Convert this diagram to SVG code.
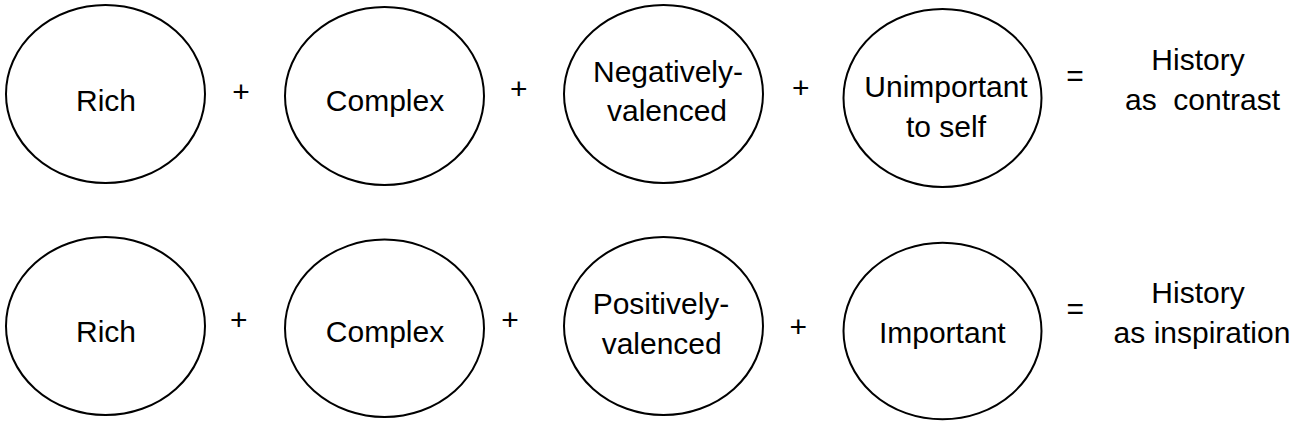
<svg xmlns="http://www.w3.org/2000/svg" width="1299" height="425" viewBox="0 0 1299 425">
<style>
  .node ellipse { fill: #ffffff; stroke: #000000; stroke-width: 2; }
  text { font-family: "Liberation Sans", Arial, sans-serif; font-size: 30px; fill: #000000; text-anchor: middle; }
  .pre { white-space: pre; }
</style>
<rect x="0" y="0" width="1299" height="425" fill="#ffffff"/>

<!-- Top row -->
<g id="rich-top" class="node">
  <ellipse cx="105.5" cy="94" rx="99.5" ry="89"/>
  <text x="106" y="111">Rich</text>
</g>
<g id="complex-top" class="node">
  <ellipse cx="384.5" cy="96" rx="99.5" ry="89"/>
  <text x="385" y="111">Complex</text>
</g>
<g id="negatively-valenced" class="node">
  <ellipse cx="663.5" cy="94" rx="99.5" ry="89"/>
  <text x="668" y="82">Negatively-</text>
  <text x="667" y="121">valenced</text>
</g>
<g id="unimportant" class="node">
  <ellipse cx="942.5" cy="98" rx="99" ry="89"/>
  <text x="946" y="97">Unimportant</text>
  <text x="946" y="137">to self</text>
</g>
<g id="history-contrast">
  <text x="1198" y="70">History</text>
  <text x="1202.5" y="110" class="pre" xml:space="preserve">as  contrast</text>
</g>

<!-- Bottom row -->
<g id="rich-bottom" class="node">
  <ellipse cx="105.5" cy="326" rx="99.5" ry="89"/>
  <text x="106" y="342">Rich</text>
</g>
<g id="complex-bottom" class="node">
  <ellipse cx="384.5" cy="328.3" rx="99.5" ry="88.7"/>
  <text x="385" y="342">Complex</text>
</g>
<g id="positively-valenced" class="node">
  <ellipse cx="663.5" cy="326" rx="99.5" ry="89"/>
  <text x="661" y="314">Positively-</text>
  <text x="661.7" y="354">valenced</text>
</g>
<g id="important" class="node">
  <ellipse cx="942.5" cy="331" rx="99" ry="88.3"/>
  <text x="942.3" y="343">Important</text>
</g>
<g id="history-inspiration">
  <text x="1198" y="303">History</text>
  <text x="1202" y="343">as inspiration</text>
</g>

<!-- Operators -->
<g id="connectors">
  <text x="241" y="101.6">+</text>
  <text x="518.7" y="98.6">+</text>
  <text x="800.7" y="97.6">+</text>
  <text x="1075" y="86.4">=</text>
  <text x="238.7" y="330">+</text>
  <text x="510" y="330">+</text>
  <text x="798.3" y="336.6">+</text>
  <text x="1075.3" y="319">=</text>
</g>
</svg>
